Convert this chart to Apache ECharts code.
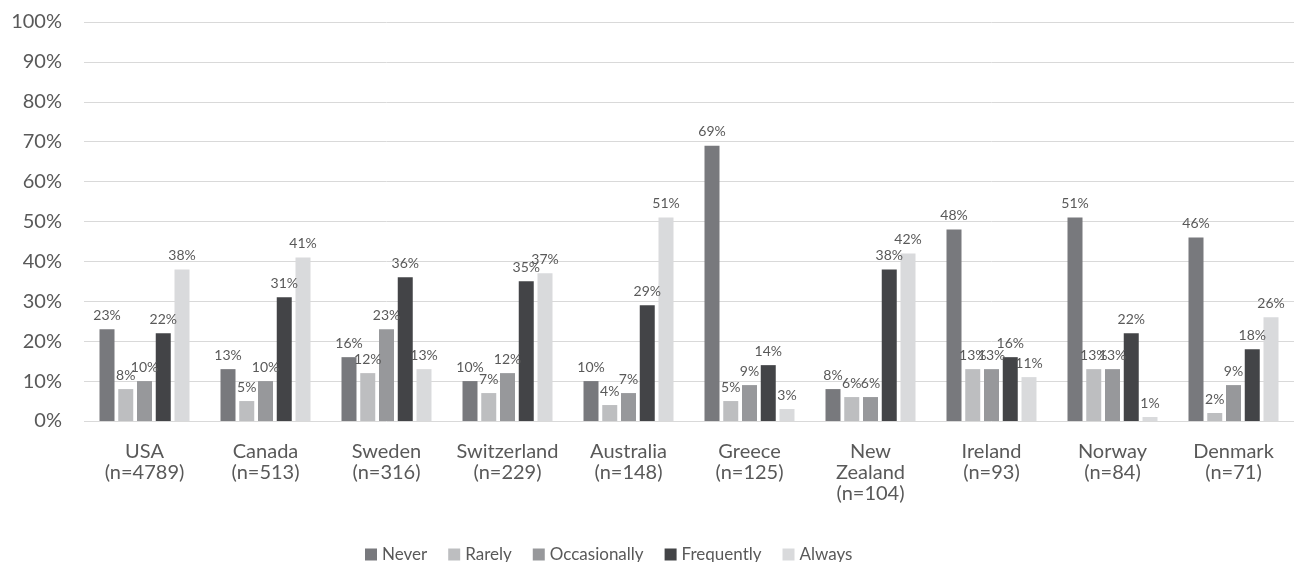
<!DOCTYPE html>
<html>
<head>
<meta charset="utf-8">
<script src="https://cdn.jsdelivr.net/npm/echarts@6/dist/echarts.min.js"></script>
<style>
  html, body { margin: 0; padding: 0; background: #fff; }
  #chart { width: 1294px; height: 562px; }
</style>
</head>
<body>
<div id="chart"></div>
<script>
// Countries with sample sizes
const categories = [
  'USA\n(n=4789)', 'Canada\n(n=513)', 'Sweden\n(n=316)', 'Switzerland\n(n=229)',
  'Australia\n(n=148)', 'Greece\n(n=125)', 'New\nZealand\n(n=104)', 'Ireland\n(n=93)',
  'Norway\n(n=84)', 'Denmark\n(n=71)'
];

// Share of respondents per answer (%)
const never        = [23, 13, 16, 10, 10, 69,  8, 48, 51, 46];
const rarely       = [ 8,  5, 12,  7,  4,  5,  6, 13, 13,  2];
const occasionally = [10, 10, 23, 12,  7,  9,  6, 13, 13,  9];
const frequently   = [22, 31, 36, 35, 29, 14, 38, 16, 22, 18];
const always       = [38, 41, 13, 37, 51,  3, 42, 11,  1, 26];

const seriesNames = ['Never', 'Rarely', 'Occasionally', 'Frequently', 'Always'];
const seriesData = [never, rarely, occasionally, frequently, always];
const colors = ['#78797d', '#bdbec0', '#97989b', '#434447', '#d9dadc'];

const FONT = 'Lato';
const TEXT = '#595959';

const chart = echarts.init(document.getElementById('chart'));
chart.setOption({
  animation: false,
  textStyle: { fontFamily: FONT },
  grid: { left: 84, top: 22, width: 1218, bottom: 141, containLabel: false },
  legend: {
    bottom: -6,
    left: 360,
    itemWidth: 12,
    itemHeight: 12,
    itemGap: 21,
    icon: 'rect',
    textStyle: { color: TEXT, fontSize: 17, fontFamily: FONT }
  },
  xAxis: {
    type: 'category',
    data: categories,
    axisLine: { show: false },
    axisTick: { show: false },
    axisLabel: { interval: 0, color: TEXT, fontSize: 20, lineHeight: 21, margin: 20, fontFamily: FONT }
  },
  yAxis: {
    type: 'value',
    min: 0,
    max: 100,
    interval: 10,
    axisLine: { show: false },
    axisTick: { show: false },
    splitLine: { lineStyle: { color: '#d9d9d9', width: 1 } },
    axisLabel: { formatter: '{value}%', color: TEXT, fontSize: 20, margin: 22, fontFamily: FONT }
  },
  series: seriesNames.map((name, i) => ({
    name,
    type: 'bar',
    data: seriesData[i],
    barWidth: 15,
    barGap: '25%',
    itemStyle: { color: colors[i] },
    label: {
      show: true,
      position: 'top',
      distance: 7,
      formatter: '{c}%',
      color: TEXT,
      fontSize: 14,
      fontFamily: FONT
    }
  }))
});
</script>
</body>
</html>
